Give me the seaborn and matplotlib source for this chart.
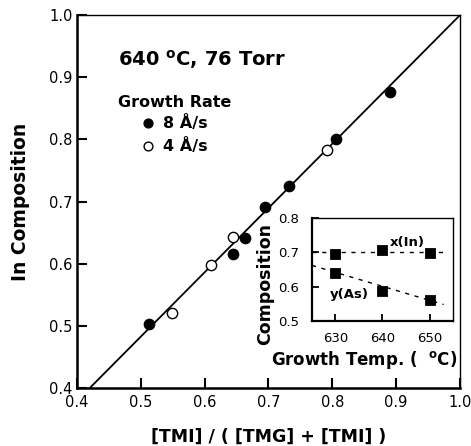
import numpy as np
import pandas as pd
import matplotlib
matplotlib.use("Agg")
import matplotlib.pyplot as plt
import seaborn as sns

sns.set_theme(style="ticks")
plt.rcParams["font.family"] = ["DejaVu Sans"]
plt.rcParams["text.color"] = "black"
plt.rcParams["axes.labelcolor"] = "black"
plt.rcParams["xtick.color"] = "black"
plt.rcParams["ytick.color"] = "black"

# Main panel: In composition vs. TMI gas-phase fraction
fast_x = [0.513, 0.645, 0.663, 0.695, 0.732, 0.806, 0.891]
fast_y = [0.503, 0.616, 0.641, 0.692, 0.725, 0.801, 0.877]
slow_x = [0.549, 0.610, 0.645, 0.791]
slow_y = [0.520, 0.598, 0.643, 0.783]
fit_x = [0.42, 1.0]
fit_y = [0.40, 1.0]

main_ticks = [0.4, 0.5, 0.6, 0.7, 0.8, 0.9, 1.0]

# Inset: composition vs. growth temperature
temps = [630, 640, 650]
x_in = [0.695, 0.706, 0.697]
y_as = [0.640, 0.587, 0.562]
trend_t = [625, 653]
trend_in = [0.700, 0.700]
trend_as = [0.662, 0.548]

inset_xticks = [630, 640, 650]
inset_yticks = [0.5, 0.6, 0.7, 0.8]

fig = plt.figure(figsize=(4.71, 4.46), dpi=100)
ax = fig.add_axes([0.1635, 0.130, 0.813, 0.836])

fast = pd.DataFrame({"x": fast_x, "y": fast_y})
slow = pd.DataFrame({"x": slow_x, "y": slow_y})
fit = pd.DataFrame({"x": fit_x, "y": fit_y})

sns.lineplot(data=fit, x="x", y="y", ax=ax, color="black", lw=1.3)
sns.scatterplot(data=fast, x="x", y="y", ax=ax, marker="o", s=55,
                color="black", edgecolor="black", linewidth=1.0, zorder=3)
sns.scatterplot(data=slow, x="x", y="y", ax=ax, marker="o", s=55,
                facecolor="white", edgecolor="black", linewidth=1.0, zorder=3)

ax.set_xlim(0.4, 1.0)
ax.set_ylim(0.4, 1.0)
ax.set_xticks(main_ticks)
ax.set_yticks(main_ticks)
ax.set_xticklabels([f"{t:.1f}" for t in main_ticks])
ax.set_yticklabels([f"{t:.1f}" for t in main_ticks])
ax.tick_params(direction="in", length=7, width=1.5, labelsize=10.5,
               colors="black")
ax.tick_params(axis="x", pad=5)
ax.tick_params(axis="y", pad=3)
for side in ["left", "bottom"]:
    ax.spines[side].set_linewidth(1.8)
for side in ["top", "right"]:
    ax.spines[side].set_linewidth(1.0)
for sp in ax.spines.values():
    sp.set_color("black")

ax.set_xlabel("[TMI] / ( [TMG] + [TMI] )", fontsize=12.5, fontweight="bold",
              labelpad=13)
ax.set_ylabel("In Composition", fontsize=13.5, fontweight="bold", labelpad=14)

# Annotations and hand-made legend
ax.text(0.465, 0.918, "640 $^{\\mathregular{o}}$C, 76 Torr", fontsize=14,
        fontweight="bold", va="baseline", ha="left")
ax.text(0.465, 0.853, "Growth Rate", fontsize=11.5, fontweight="bold",
        va="baseline", ha="left")
ax.scatter([0.511], [0.826], s=40, color="black", zorder=3)
ax.scatter([0.511], [0.790], s=40, facecolor="white", edgecolor="black",
           linewidth=1.0, zorder=3)
ax.text(0.535, 0.826, "8 Å/s", fontsize=11.5, fontweight="bold", va="center")
ax.text(0.535, 0.790, "4 Å/s", fontsize=11.5, fontweight="bold", va="center")

# Inset axes
ins = fig.add_axes([0.6624, 0.2803, 0.2994, 0.2309])
ins_in = pd.DataFrame({"t": temps, "c": x_in})
ins_as = pd.DataFrame({"t": temps, "c": y_as})
tr_in = pd.DataFrame({"t": trend_t, "c": trend_in})
tr_as = pd.DataFrame({"t": trend_t, "c": trend_as})

sns.lineplot(data=tr_in, x="t", y="c", ax=ins, color="black", lw=1.0,
             linestyle=(0, (3, 4)))
sns.lineplot(data=tr_as, x="t", y="c", ax=ins, color="black", lw=1.0,
             linestyle=(0, (3, 4)))
sns.scatterplot(data=ins_in, x="t", y="c", ax=ins, marker="s", s=55,
                color="black", edgecolor="black", zorder=3)
sns.scatterplot(data=ins_as, x="t", y="c", ax=ins, marker="s", s=55,
                color="black", edgecolor="black", zorder=3)

ins.set_xlim(625, 655)
ins.set_ylim(0.5, 0.8)
ins.set_xticks(inset_xticks)
ins.set_yticks(inset_yticks)
ins.set_xticklabels([str(t) for t in inset_xticks])
ins.set_yticklabels([f"{t:.1f}" for t in inset_yticks])
ins.tick_params(direction="in", length=5, width=1.3, labelsize=9.5,
                colors="black")
ins.tick_params(axis="x", pad=8)
ins.tick_params(axis="y", pad=9)
for side in ["left", "bottom"]:
    ins.spines[side].set_linewidth(1.6)
for side in ["top", "right"]:
    ins.spines[side].set_linewidth(1.0)
for sp in ins.spines.values():
    sp.set_color("black")
ins.set_xlabel("Growth Temp. (  $^{\\mathregular{o}}$C)", fontsize=12,
               fontweight="bold")
ins.xaxis.set_label_coords(0.37, -0.27)
ins.set_ylabel("Composition", fontsize=12.5, fontweight="bold")
ins.yaxis.set_label_coords(-0.27, 0.36)
ins.text(641.5, 0.728, "x(In)", fontsize=9.5, fontweight="bold", ha="left",
         va="center")
ins.text(628.8, 0.576, "y(As)", fontsize=9.5, fontweight="bold", ha="left",
         va="center")

fig.savefig("out.png", dpi=100)
